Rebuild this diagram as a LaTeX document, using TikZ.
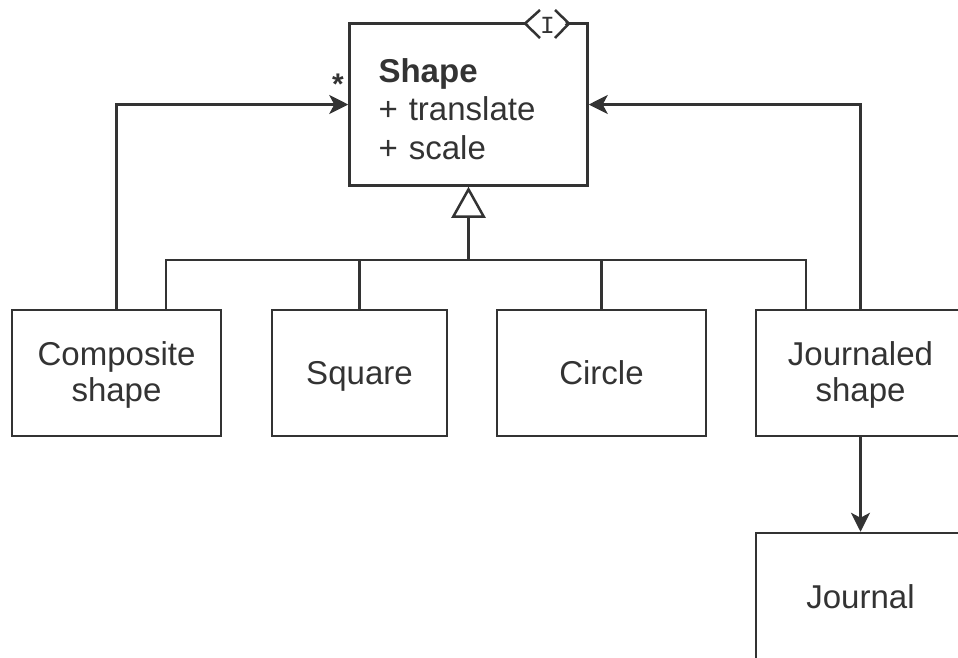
\documentclass[tikz,border=0pt]{standalone}
\usepackage{fontspec}
\setmainfont{Liberation Sans}
\newfontfamily\markfont{Liberation Mono}
\usetikzlibrary{arrows.meta,positioning}
\definecolor{umlInk}{RGB}{51,51,51}
\def\unitpx{0.02cm}
\tikzset{
  line/.style={draw=umlInk, line width=0.05cm},
  classbox/.style={line, rectangle, inner sep=0pt, text=umlInk, align=center,
    font=\fontsize{18.8}{21}\selectfont, minimum width=209*\unitpx, minimum height=126*\unitpx},
  oneline/.style={text height=13.5pt, text depth=0pt},
  twoline/.style={text height=33pt, text depth=0pt},
  assoc/.style={line, -{Stealth[length=0.38cm, width=0.38cm, inset=0.1cm]}},
  inherit/.style={line, -{Triangle[length=0.62cm, width=0.68cm, fill=white]}}
}
\begin{document}
\begin{tikzpicture}[x=0.02cm, y=-0.02cm]
\clip (0,0) rectangle (958,657);
% interface class with its marker on the top edge
\node[classbox, align=left, text width=180*\unitpx, inner xsep=29*\unitpx,
  font=\fontsize{18.8}{22.1}\selectfont, text height=13.5pt, text depth=39.1pt,
  minimum height=162*\unitpx] (shape) at (468.5,104.5)
  {\textbf{Shape}\\+ translate\\+ scale};
\fill[white] (527,23) -- (540,12) -- (555,12) -- (566,23) -- (555,37) -- (540,37) -- cycle;
\draw[line] (540,10) -- (525,23.5) -- (540,38);
\draw[line] (555,10) -- (569,23.5) -- (555,38);
\node[text=umlInk, font=\markfont\fontsize{14}{14}\selectfont, inner sep=0pt] (iface) at (547.5,25) {I};
% subclasses (row y = 373)
\node[classbox, twoline] (comp) at (116.5,373) {Composite\\shape};
\node[classbox, oneline, minimum width=175*\unitpx] (square) at (359.5,373) {Square};
\node[classbox, oneline] (circle) at (601.5,373) {Circle};
\node[classbox, twoline] (jshape) at (860.5,373) {Journaled\\shape};
\node[classbox, oneline, minimum height=127*\unitpx] (journal) at (860.5,596.5) {Journal};
% inheritance tree
\coordinate (bus) at (468.5,260);
\draw[line] ([xshift=49.5*\unitpx]comp.north) |- (bus) -| ([xshift=-54.5*\unitpx]jshape.north);
\draw[line] (square.north) -- (square.north |- bus);
\draw[line] (circle.north) -- (circle.north |- bus);
\draw[inherit] (bus) -- (shape.south);
% associations
\draw[assoc] (comp.north) |- (shape.west);
\node[text=umlInk, font=\bfseries\fontsize{17}{17}\selectfont, inner sep=0pt] (mult) at (338,84) {*};
\draw[assoc] (jshape.north) |- (shape.east);
\draw[assoc] (jshape.south) -- (journal.north);
\end{tikzpicture}
\end{document}
